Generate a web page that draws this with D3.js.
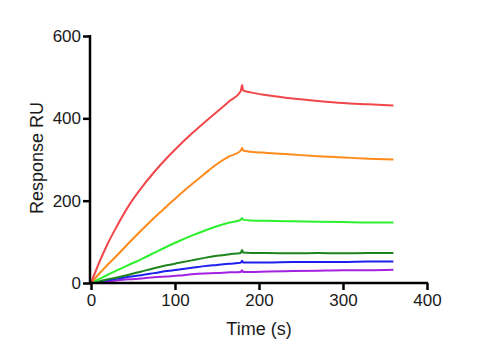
<!DOCTYPE html>
<html>
<head>
<meta charset="utf-8">
<script src="https://cdn.jsdelivr.net/npm/d3@7"></script>
<style>
html,body{margin:0;padding:0;background:#fff;}
svg{display:block;font-family:"Liberation Sans",Arial,sans-serif;}
</style>
</head>
<body>
<svg id="chart" width="486" height="350"></svg>
<script>
const times = [0,10,20,30,45,60,75,90,105,120,135,150,165,178,180,181,190,210,240,270,300,330,360];
const red    = [0,51,96,135,188,231,269,303,334,363,390,416,442,465,481,468,463,456,448,442,437,434,431];
const orange = [0,23,45,65,97,128,158,186,214,240,265,289,308,321,328,322,319,316,312,308,305,302,300];
const green  = [0,10,20,30,44,58,73,88,102,115,127,138,147,153,158,154,152,151,150,149,148,147,147];
const darkGreen = [0,4,9,13,20,28,36,43,49,55,61,66,70,73,80,74,73,73,72,73,72,73,73];
const blue   = [0,3,7,10,15,19,24,29,33,37,41,44,47,49,54,50,50,50,51,51,51,52,52];
const purple = [0,2,4,6,9,11,14,16,18,21,23,24,26,27,31,27,27,28,29,30,31,31,32];
const xTicks = [0,100,200,300,400];
const yTicks = [0,200,400,600];
const seriesList = [
  {name:"purple", values:purple, color:"#a321e0"},
  {name:"blue", values:blue, color:"#1f1ff0"},
  {name:"darkGreen", values:darkGreen, color:"#1e841e"},
  {name:"green", values:green, color:"#2df02d"},
  {name:"orange", values:orange, color:"#ff8a1c"},
  {name:"red", values:red, color:"#f2474a"}
];

const svg = d3.select("#chart");
const x = d3.scaleLinear().domain([0,400]).range([91,427]);
const y = d3.scaleLinear().domain([0,600]).range([283,36]);

const line = d3.line().x((d,i)=>x(times[i])).y(d=>y(d)).curve(d3.curveMonotoneX);
seriesList.forEach(s=>{
  svg.append("path").datum(s.values)
    .attr("d", line)
    .attr("fill","none")
    .attr("stroke", s.color)
    .attr("stroke-width", 2)
    .attr("stroke-linejoin","round");
});

const xAxis = svg.append("g").attr("transform","translate(0,283)")
  .call(d3.axisBottom(x).tickValues(xTicks).tickSize(7).tickPadding(4).tickSizeOuter(0));
const yAxis = svg.append("g").attr("transform","translate(90,0)")
  .call(d3.axisLeft(y).tickValues(yTicks).tickSize(7).tickPadding(2).tickSizeOuter(0));
[xAxis,yAxis].forEach(g=>{
  g.select(".domain").attr("stroke","#000").attr("stroke-width",2.5);
  g.selectAll(".tick line").attr("stroke","#000").attr("stroke-width",2.5);
  g.selectAll(".tick text").attr("fill","#1a1a1a").style("font-size","17px");
});
xAxis.select(".domain").attr("d","M89,0H428");
yAxis.select(".domain").attr("d","M0,35V284");

svg.append("text").attr("x",259).attr("y",335).attr("text-anchor","middle")
  .style("font-size","18px").attr("fill","#1a1a1a").text("Time (s)");
svg.append("text").attr("transform","translate(43,158) rotate(-90)").attr("text-anchor","middle")
  .style("font-size","18px").attr("fill","#1a1a1a").text("Response RU");
</script>
</body>
</html>
